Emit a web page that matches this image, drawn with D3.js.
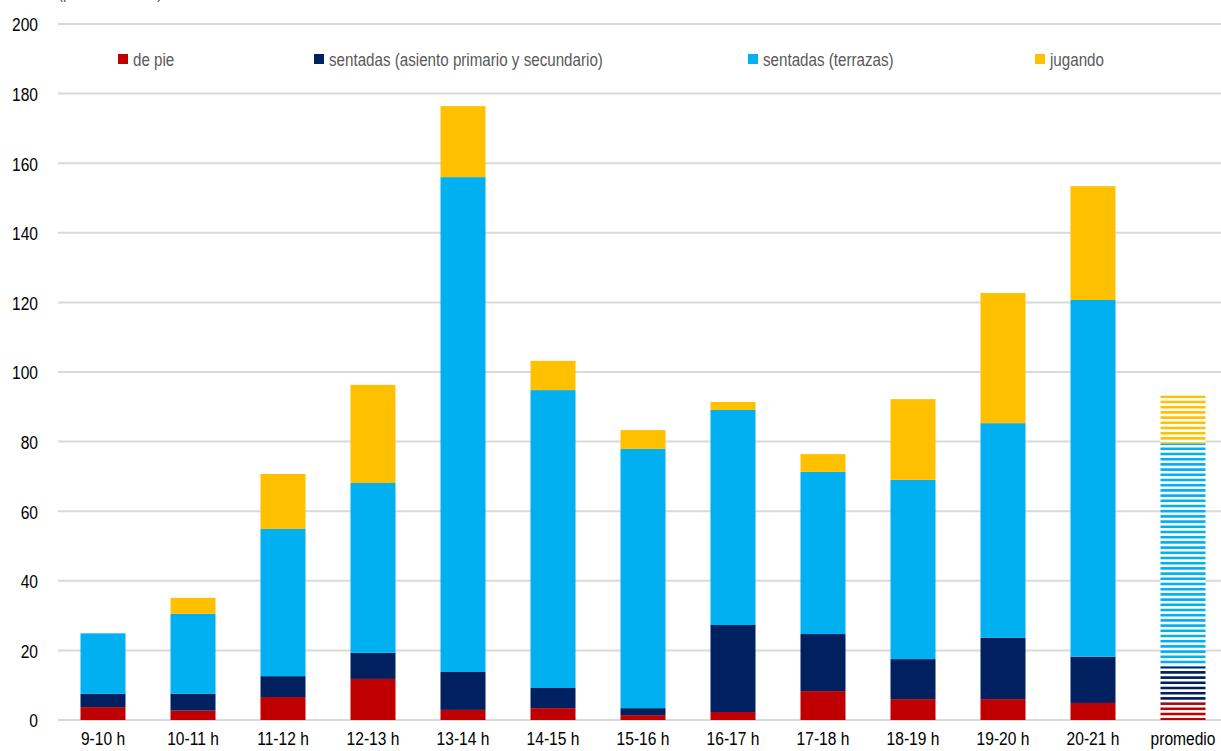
<!DOCTYPE html>
<html>
<head>
<meta charset="utf-8">
<script src="https://cdn.jsdelivr.net/npm/d3@7"></script>
<style>
  html, body { margin: 0; padding: 0; background: #fff; overflow: hidden; }
  svg { display: block; font-family: "Liberation Sans", Arial, sans-serif; }
</style>
</head>
<body>
<svg id="chart" width="1221" height="751"></svg>
<script>
// Hour slots plus the daily average column
const categories = ["9-10 h", "10-11 h", "11-12 h", "12-13 h", "13-14 h", "14-15 h",
  "15-16 h", "16-17 h", "17-18 h", "18-19 h", "19-20 h", "20-21 h", "promedio"];

// People counted per activity
const dePie            = [3.7, 2.7, 6.6, 11.8, 2.9, 3.4, 1.4, 2.3, 8.3, 6.0, 6.0, 4.9, 5.0];
const sentadasAsiento  = [3.8, 4.8, 6.0, 7.5, 10.9, 5.8, 2.0, 25.0, 16.4, 11.5, 17.6, 13.3, 10.4];
const sentadasTerrazas = [17.4, 23.0, 42.3, 48.8, 142.2, 85.6, 74.5, 61.8, 46.6, 51.5, 61.7, 102.5, 64.1];
const jugando          = [0, 4.6, 15.8, 28.2, 20.4, 8.4, 5.4, 2.3, 5.1, 23.2, 37.4, 32.7, 13.8];

const seriesNames = ["de pie", "sentadas (asiento primario y secundario)", "sentadas (terrazas)", "jugando"];
const seriesColors = ["#C00000", "#002060", "#00B0F0", "#FFC000"];
const yTicks = [0, 20, 40, 60, 80, 100, 120, 140, 160, 180, 200];
const unitLabel = "(personas/hora)";

// Condensed look: regular sans squeezed horizontally
const NARROW = "scale(0.82,1)";

const svg = d3.select("#chart");
const keys = ["dePie", "sentadasAsiento", "sentadasTerrazas", "jugando"];
const rows = categories.map((c, i) => ({
  cat: c,
  dePie: dePie[i],
  sentadasAsiento: sentadasAsiento[i],
  sentadasTerrazas: sentadasTerrazas[i],
  jugando: jugando[i]
}));
const stacked = d3.stack().keys(keys)(rows);

const x = d3.scaleBand().domain(categories).range([58, 1228]).paddingInner(0.5).paddingOuter(0.25);
const y = d3.scaleLinear().domain([0, 200]).range([720, 24]);

// Striped fills for the average column
const defs = svg.append("defs");
seriesColors.forEach((col, i) => {
  const p = defs.append("pattern")
    .attr("id", "stripe" + i)
    .attr("patternUnits", "userSpaceOnUse")
    .attr("x", 0).attr("y", 0.3)
    .attr("width", 8).attr("height", 5.2);
  p.append("rect").attr("x", 0).attr("y", 0).attr("width", 8).attr("height", 5.2).attr("fill", "#fff");
  p.append("rect").attr("x", 0).attr("y", 0).attr("width", 8).attr("height", 2.6).attr("fill", col);
});

// Unit label (mostly above the visible area)
svg.append("text")
  .attr("transform", "translate(58,-2) " + NARROW)
  .attr("font-size", 18).attr("fill", "#595959")
  .text(unitLabel);

// Gridlines
svg.append("g").selectAll("line").data(yTicks).join("line")
  .attr("x1", 58).attr("x2", 1228)
  .attr("y1", d => y(d)).attr("y2", d => y(d))
  .attr("stroke", "#d9d9d9").attr("stroke-width", 2);

// Y axis labels
const yAxis = d3.axisLeft(y).tickValues(yTicks).tickSize(0).tickPadding(0).tickFormat(d3.format("d"));
const yg = svg.append("g").attr("transform", "translate(38,0)").call(yAxis);
yg.select(".domain").remove();
yg.selectAll("text")
  .attr("font-family", "'Liberation Sans', Arial, sans-serif")
  .attr("font-size", 19).attr("fill", "#000").attr("dy", "0.36em")
  .attr("transform", NARROW);

// Stacked bars
stacked.forEach((layer, si) => {
  svg.append("g").selectAll("rect").data(layer).join("rect")
    .attr("x", d => x(d.data.cat))
    .attr("width", x.bandwidth())
    .attr("y", d => y(d[1]))
    .attr("height", d => Math.max(0, y(d[0]) - y(d[1])))
    .attr("fill", d => d.data.cat === "promedio" ? "url(#stripe" + si + ")" : seriesColors[si]);
});

// X axis labels
const xAxis = d3.axisBottom(x).tickSize(0).tickPadding(0);
const xg = svg.append("g").attr("transform", "translate(0,732)").call(xAxis);
xg.select(".domain").remove();
xg.selectAll("text")
  .attr("font-family", "'Liberation Sans', Arial, sans-serif")
  .attr("font-size", 19).attr("fill", "#000").attr("dy", "0.71em")
  .attr("transform", NARROW);

// Legend
const legendX = [118, 314, 748, 1035];
const lg = svg.append("g");
seriesNames.forEach((name, i) => {
  lg.append("rect").attr("x", legendX[i]).attr("y", 54).attr("width", 10).attr("height", 10)
    .attr("fill", seriesColors[i]);
  lg.append("text")
    .attr("transform", `translate(${legendX[i] + 15},65.5) ${NARROW}`)
    .attr("font-size", 18.5).attr("fill", "#595959").text(name);
});
</script>
</body>
</html>
